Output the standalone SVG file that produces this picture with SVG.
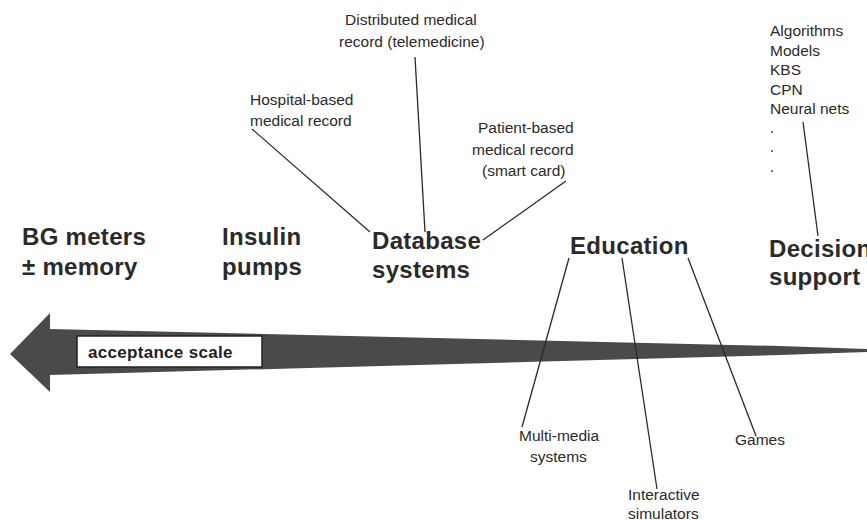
<svg xmlns="http://www.w3.org/2000/svg" width="867" height="520" viewBox="0 0 867 520">
<style>
.big{font-family:"Liberation Sans",Arial,sans-serif;font-weight:bold;font-size:24px;fill:#2a2a2a;letter-spacing:0.3px}
.sm{font-family:"Liberation Sans",Arial,sans-serif;font-size:15.5px;fill:#2a2a2a}
.ln{stroke:#2a2a2a;stroke-width:1.3;fill:none}
</style>
<rect width="867" height="520" fill="#fff"/>
<g id="scale">
<polygon points="10,354 50,313 50,329 780,346 867,349 867,352 780,355 50,375 50,392" fill="#4a4a4a"/>
<rect x="77" y="336" width="185" height="31" fill="#fff" stroke="#222" stroke-width="1.5"/>
<text x="88" y="358" font-family="Liberation Sans,Arial,sans-serif" font-weight="bold" font-size="17" fill="#222" letter-spacing="0.3">acceptance scale</text>
</g>
<g id="bg"><text class="big" x="22" y="245">BG meters</text><text class="big" x="22" y="275">± memory</text></g>
<g id="insulin"><text class="big" x="222" y="245">Insulin</text><text class="big" x="222" y="275">pumps</text></g>
<g id="database"><text class="big" x="372" y="249">Database</text><text class="big" x="372" y="278">systems</text></g>
<g id="education"><text class="big" x="570" y="254">Education</text></g>
<g id="decision"><text class="big" x="769" y="257">Decision</text><text class="big" x="769" y="285">support</text></g>
<g id="distributed"><text class="sm" x="345" y="25">Distributed medical</text><text class="sm" x="339" y="47">record (telemedicine)</text></g>
<g id="hospital"><text class="sm" x="250" y="105">Hospital-based</text><text class="sm" x="250" y="126">medical record</text></g>
<g id="patient"><text class="sm" x="478" y="133">Patient-based</text><text class="sm" x="472" y="155">medical record</text><text class="sm" x="482" y="176">(smart card)</text></g>
<g id="methods"><text class="sm" x="770" y="36">Algorithms</text><text class="sm" x="770" y="56">Models</text><text class="sm" x="770" y="75">KBS</text><text class="sm" x="770" y="95">CPN</text><text class="sm" x="770" y="114">Neural nets</text>
<circle cx="772" cy="132" r="0.9" fill="#333"/><circle cx="772" cy="151" r="0.9" fill="#333"/><circle cx="772" cy="171" r="0.9" fill="#333"/></g>
<g id="multimedia"><text class="sm" x="519" y="441">Multi-media</text><text class="sm" x="530" y="462">systems</text></g>
<g id="games"><text class="sm" x="735" y="445">Games</text></g>
<g id="interactive"><text class="sm" x="628" y="500">Interactive</text><text class="sm" x="628" y="519">simulators</text></g>
<g id="connectors">
<line class="ln" x1="252" y1="129" x2="370" y2="232"/>
<line class="ln" x1="415" y1="57" x2="425" y2="232"/>
<line class="ln" x1="566" y1="181" x2="483" y2="240"/>
<line class="ln" x1="803" y1="122" x2="818" y2="236"/>
<line class="ln" x1="569" y1="258" x2="522" y2="427"/>
<line class="ln" x1="622" y1="258" x2="657" y2="489"/>
<line class="ln" x1="688" y1="258" x2="756" y2="436"/>
</g>
</svg>
